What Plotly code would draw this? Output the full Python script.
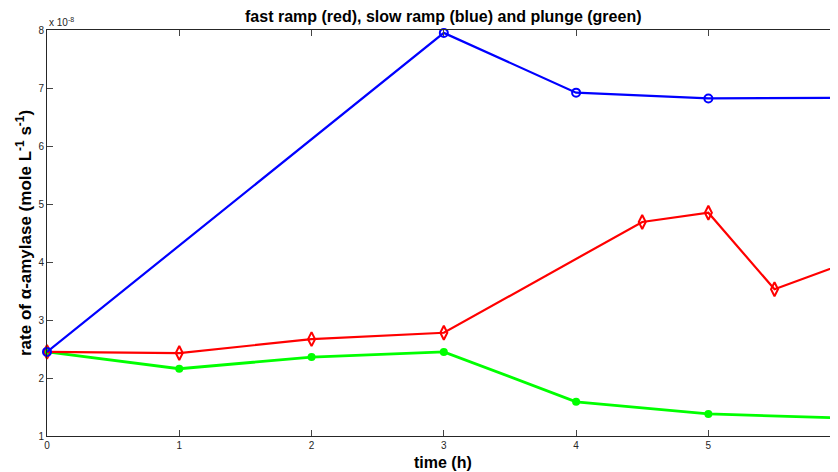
import plotly.graph_objects as go

# values in units of 1e-8 mole L^-1 s^-1
blue_t = [0, 3, 4, 5, 6]
blue_v = [2.45, 7.95, 6.92, 6.82, 6.83]

red_t = [0, 1, 2, 3, 4.5, 5, 5.5, 6]
red_v = [2.45, 2.43, 2.67, 2.78, 4.69, 4.85, 3.53, 3.95]

green_t = [0, 1, 2, 3, 4, 5, 6]
green_v = [2.45, 2.16, 2.36, 2.45, 1.59, 1.38, 1.31]

x_ticks = [0, 1, 2, 3, 4, 5, 6]
y_ticks = [1, 2, 3, 4, 5, 6, 7, 8]

FONT = "Liberation Sans, Arial, sans-serif"
AX = "#262626"

fig = go.Figure()
fig.add_trace(go.Scatter(x=green_t, y=green_v, mode="lines+markers",
                         line=dict(color="#00FF00", width=2.8),
                         marker=dict(symbol="circle", size=8, color="#00FF00"),
                         cliponaxis=False))
fig.add_trace(go.Scatter(x=red_t, y=red_v, mode="lines+markers",
                         line=dict(color="#FF0000", width=2.2),
                         marker=dict(symbol="diamond-tall-open", size=10, color="#FF0000",
                                     line=dict(width=2)),
                         cliponaxis=False))
fig.add_trace(go.Scatter(x=blue_t, y=blue_v, mode="lines+markers",
                         line=dict(color="#0000FF", width=2.2),
                         marker=dict(symbol="circle-open", size=8, color="#0000FF",
                                     line=dict(width=2)),
                         cliponaxis=False))
fig.add_trace(go.Scatter(x=[0], y=[1], yaxis="y2", mode="markers",
                         marker=dict(opacity=0), hoverinfo="skip"))

# the page body adds an 8px margin, so the figure is offset to line up with the window
fig.update_layout(
    width=830, height=464,
    margin=dict(l=39, r=0, t=22, b=36, autoexpand=False),
    paper_bgcolor="white", plot_bgcolor="white",
    showlegend=False,
    font=dict(family=FONT, size=10, color=AX),
    xaxis=dict(range=[0, 5.98], tickvals=x_ticks, ticks="inside", ticklen=6,
               showline=True, linecolor=AX, linewidth=1, mirror="ticks",
               showgrid=False, zeroline=False, automargin=False),
    yaxis=dict(range=[1, 8], tickvals=y_ticks, ticks="inside", ticklen=6,
               showline=True, linecolor=AX, linewidth=1,
               showgrid=False, zeroline=False, automargin=False),
    yaxis2=dict(range=[1, 8], tickvals=y_ticks, ticks="inside", ticklen=6,
                overlaying="y", side="right", showline=False, showticklabels=False,
                showgrid=False, zeroline=False, tickcolor=AX, automargin=False),
)
# title
fig.add_annotation(text="<b>fast ramp (red), slow ramp (blue) and plunge (green)</b>",
                   xref="paper", yref="paper", x=0.5, y=1, yshift=14,
                   xanchor="center", yanchor="middle", showarrow=False,
                   font=dict(family=FONT, size=16, color="black"))
# x-axis title
fig.add_annotation(text="<b>time (h)</b>", xref="paper", yref="paper",
                   x=0.5, y=0, yshift=-26, xanchor="center", yanchor="middle",
                   showarrow=False, font=dict(family=FONT, size=16, color="black"))
# y-axis title
fig.add_annotation(text="<b>rate of α-amylase (mole L<sup>-1</sup> s<sup>-1</sup>)</b>",
                   xref="paper", yref="paper", x=0, y=0.5, xshift=-23,
                   xanchor="center", yanchor="middle", textangle=-90,
                   showarrow=False, font=dict(family=FONT, size=17, color="black"))
# exponent
fig.add_annotation(text="x 10<sup>-8</sup>", xref="paper", yref="paper",
                   x=0, y=1, xanchor="left", yanchor="bottom", showarrow=False,
                   font=dict(family=FONT, size=10, color=AX))

fig.write_html("out.html")
